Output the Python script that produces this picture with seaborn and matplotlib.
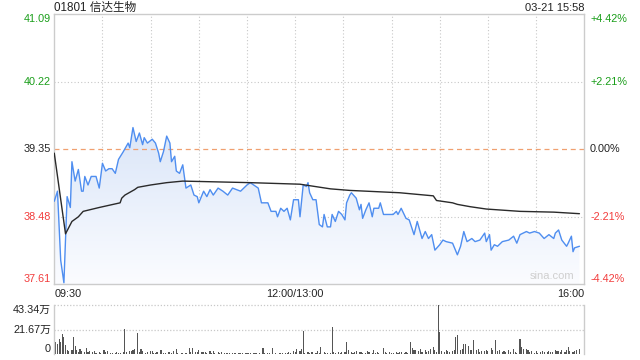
import numpy as np
import pandas as pd
import matplotlib
matplotlib.use("Agg")
import matplotlib.pyplot as plt
from matplotlib.patches import Polygon
from matplotlib.colors import LinearSegmentedColormap
import seaborn as sns

# ---------------- data ----------------
title = "01801 信达生物"
stamp = "03-21 15:58"
prev_close = 39.35
price_ticks = [41.09, 40.22, 39.35, 38.48, 37.61]
pct_labels = ["+4.42%", "+2.21%", "0.00%", "-2.21%", "-4.42%"]
time_labels = ["09:30", "12:00/13:00", "16:00"]
time_label_min = [0, 150, 330]
vol_ticks = [43.34, 21.67, 0]
vol_labels = ["43.34万", "21.67万", "0"]

price_min = [0, 2, 4, 6, 8, 10, 11, 13, 15, 17, 18, 19, 21, 23, 26, 28, 30, 32, 34, 36,
             38, 40, 43, 46, 47, 49, 51, 53, 55, 56, 58, 61, 63, 65, 66, 68, 70, 72, 73, 75,
             76, 78, 80, 82, 85, 87, 89, 90, 93, 95, 97, 99, 102, 105, 108, 111, 116, 120, 122, 127,
             129, 133, 135, 138, 139, 141, 143, 145, 147, 149, 152, 153, 155, 157, 158, 159, 161, 163, 165, 167,
             168, 170, 172, 173, 175, 177, 179, 181, 182, 184, 185, 188, 190, 191, 192, 194, 196, 198, 199, 202,
             203, 205, 211, 213, 214, 216, 219, 221, 224, 226, 229, 231, 233, 235, 237, 240, 242, 244, 248, 251,
             253, 255, 257, 260, 262, 265, 268, 269, 271, 272, 274, 276, 279, 283, 286, 288, 290, 294, 296, 299,
             302, 305, 308, 311, 312, 314, 316, 319, 320, 322, 323, 324, 327]
price = [38.68, 38.81, 37.92, 37.63, 38.74, 38.60, 39.19, 38.94, 39.09, 38.81, 38.81, 39.00, 38.89, 39.00, 39.00, 38.85, 39.17, 39.07, 39.10, 39.10,
         39.04, 39.22, 39.32, 39.43, 39.37, 39.63, 39.45, 39.56, 39.41, 39.50, 39.43, 39.48, 39.43, 39.30, 39.19, 39.32, 39.52, 39.43, 39.19, 39.26,
         39.07, 39.04, 39.15, 38.85, 38.89, 38.76, 38.74, 38.66, 38.81, 38.74, 38.83, 38.76, 38.85, 38.81, 38.76, 38.85, 38.81, 38.89, 38.92, 38.85,
         38.66, 38.66, 38.55, 38.55, 38.48, 38.59, 38.55, 38.59, 38.44, 38.70, 38.70, 38.48, 38.89, 38.87, 38.92, 38.79, 38.70, 38.70, 38.38, 38.35,
         38.51, 38.35, 38.35, 38.51, 38.42, 38.55, 38.51, 38.44, 38.66, 38.76, 38.79, 38.72, 38.57, 38.64, 38.46, 38.57, 38.66, 38.48, 38.59, 38.59,
         38.66, 38.51, 38.51, 38.55, 38.51, 38.59, 38.46, 38.44, 38.25, 38.42, 38.20, 38.29, 38.20, 38.25, 38.05, 38.12, 38.18, 38.16, 38.14, 37.99,
         38.10, 38.29, 38.16, 38.20, 38.16, 38.18, 38.27, 38.16, 38.25, 38.05, 38.12, 38.10, 38.16, 38.18, 38.23, 38.14, 38.25, 38.29, 38.27, 38.29,
         38.27, 38.20, 38.25, 38.20, 38.27, 38.31, 38.18, 38.10, 38.14, 38.23, 38.03, 38.08, 38.10]

avg_min = [0, 7, 11, 15, 18, 28, 41, 42, 44, 50, 52, 60, 70, 80, 122, 153, 172, 184, 215, 236,
           238, 248, 251, 259, 269, 290, 311, 327]
avg_price = [39.30, 38.26, 38.42, 38.48, 38.55, 38.60, 38.66, 38.72, 38.76, 38.83, 38.86, 38.89, 38.92, 38.94, 38.92, 38.90, 38.84, 38.82, 38.79, 38.75,
             38.69, 38.66, 38.64, 38.61, 38.58, 38.55, 38.54, 38.52]

vol_min = [1, 2, 3, 4, 5, 6, 7, 8, 9, 11, 12, 13, 14, 15, 16, 17, 19, 20, 21, 22,
           24, 25, 26, 28, 29, 31, 32, 33, 35, 36, 38, 39, 40, 41, 43, 44, 45, 47, 48, 49,
           50, 52, 53, 54, 55, 57, 58, 60, 61, 62, 63, 64, 66, 67, 68, 69, 71, 72, 73, 74,
           76, 77, 79, 80, 82, 84, 85, 86, 88, 89, 90, 92, 93, 94, 95, 97, 98, 99, 100, 102,
           103, 104, 106, 107, 108, 109, 111, 112, 113, 115, 116, 117, 119, 120, 121, 122, 124, 125, 126, 128,
           130, 131, 133, 134, 136, 138, 140, 141, 142, 144, 145, 146, 147, 149, 150, 151, 153, 154, 155, 156,
           158, 159, 160, 161, 163, 164, 165, 166, 168, 169, 170, 172, 173, 174, 175, 177, 178, 179, 181, 182,
           183, 185, 186, 187, 188, 190, 191, 192, 194, 195, 196, 198, 199, 200, 201, 202, 205, 206, 207, 209,
           210, 211, 213, 214, 215, 216, 218, 219, 220, 222, 223, 224, 225, 227, 228, 229, 231, 232, 233, 234,
           236, 237, 238, 239, 240, 241, 243, 244, 245, 246, 248, 249, 250, 251, 253, 254, 255, 256, 258, 259,
           260, 261, 263, 264, 265, 266, 268, 269, 270, 272, 273, 275, 276, 277, 279, 280, 281, 283, 284, 286,
           287, 288, 290, 291, 292, 294, 295, 296, 297, 299, 300, 301, 303, 304, 305, 307, 308, 309, 310, 312,
           313, 314, 315, 316, 318, 319, 320, 321, 323, 324, 325, 327]
vol_wan = [11.0, 9.0, 13.3, 11.0, 18.2, 15.3, 8.0, 3.8, 3.2, 4.3, 15.3, 7.2, 3.8, 2.3, 5.2, 2.9, 2.3, 6.0, 2.3, 3.2,
           2.3, 2.9, 1.7, 2.0, 1.4, 3.8, 2.0, 3.2, 1.7, 1.7, 1.2, 2.3, 1.7, 1.4, 2.6, 22.5, 2.3, 2.9, 3.2, 3.8,
           4.6, 18.8, 2.3, 5.2, 3.2, 1.7, 2.3, 2.9, 3.2, 1.7, 1.4, 2.0, 3.5, 3.5, 1.7, 1.4, 2.0, 2.6, 1.4, 2.9,
           5.2, 1.4, 1.7, 1.7, 1.4, 6.0, 2.0, 5.8, 2.0, 2.3, 3.8, 2.3, 2.3, 2.6, 1.7, 3.2, 1.7, 2.9, 1.7, 2.3,
           1.7, 2.3, 1.7, 1.7, 1.4, 1.2, 1.7, 1.4, 1.4, 1.2, 1.4, 1.2, 1.4, 1.2, 0.9, 1.2, 0.9, 1.4, 1.2, 1.2,
           6.0, 1.7, 1.4, 1.4, 5.8, 1.2, 1.4, 1.4, 1.2, 1.4, 1.7, 2.3, 1.7, 3.2, 2.3, 5.2, 2.9, 4.6, 20.2, 1.7,
           2.3, 1.7, 2.0, 2.3, 1.4, 2.9, 1.7, 6.9, 2.3, 1.7, 1.2, 1.7, 24.0, 2.0, 1.7, 2.3, 1.7, 2.0, 2.6, 11.0,
           3.8, 2.0, 1.7, 2.0, 2.9, 2.0, 2.0, 1.7, 1.7, 3.2, 2.0, 1.7, 3.8, 1.7, 2.6, 1.7, 6.0, 2.0, 1.7, 2.3,
           1.4, 1.7, 2.6, 1.7, 2.0, 2.3, 1.7, 2.3, 1.7, 11.0, 6.0, 4.3, 3.8, 3.2, 5.2, 2.0, 3.5, 2.3, 2.9, 4.6,
           6.6, 3.8, 2.3, 43.34, 19.7, 2.9, 2.3, 3.8, 3.2, 2.0, 2.9, 3.8, 15.3, 16.8, 3.8, 4.6, 9.5, 9.5, 7.2, 3.8,
           4.3, 12.4, 3.8, 4.6, 2.3, 3.2, 2.9, 3.8, 2.9, 5.8, 3.8, 12.4, 2.9, 4.3, 2.3, 2.9, 2.3, 3.8, 2.0, 4.6,
           2.3, 1.7, 13.3, 6.6, 4.9, 5.2, 3.8, 2.3, 2.9, 1.7, 2.9, 1.7, 2.3, 2.9, 2.0, 2.3, 2.9, 2.0, 2.6, 3.5,
           3.2, 3.2, 2.3, 3.5, 2.3, 4.3, 6.6, 3.2, 2.3, 3.2, 3.8, 4.9]

# ---------------- style ----------------
sns.set_style("white")
plt.rcParams["font.family"] = ["Liberation Sans", "Noto Sans CJK SC", "DejaVu Sans"]

GREEN = "#1a9e1a"
RED = "#f23c3c"
DARK = "#222222"
GRID = "#c8c8c8"
label_colors = [GREEN, GREEN, DARK, RED, RED]

fig = plt.figure(figsize=(6.4, 3.6), dpi=100)
ax = fig.add_axes([0.0848, 0.2103, 0.8281, 0.75])
axv = fig.add_axes([0.0848, 0.0153, 0.8281, 0.1375])

x_max = 330
y_lo, y_hi = price_ticks[-1], price_ticks[0]

df_p = pd.DataFrame({"minute": price_min, "price": price})
df_a = pd.DataFrame({"minute": avg_min, "price": avg_price})

# gradient fill under price line
verts = [(price_min[0], y_lo)] + list(zip(price_min, price)) + [(price_min[-1], y_lo)]
patch = Polygon(verts, closed=True, facecolor="none", edgecolor="none")
ax.add_patch(patch)
cmap = LinearSegmentedColormap.from_list("fill", ["#fbfcff", "#d9e5f8"])
grad = np.linspace(0, 1, 256).reshape(-1, 1)
im = ax.imshow(grad, cmap=cmap, origin="lower", aspect="auto",
               extent=[0, x_max, y_lo, 39.7], zorder=1)
im.set_clip_path(patch)

sns.lineplot(data=df_p, x="minute", y="price", ax=ax, color="#4f8ef0",
             linewidth=1.0, zorder=3, errorbar=None)
sns.lineplot(data=df_a, x="minute", y="price", ax=ax, color="#2a2a2a",
             linewidth=1.0, zorder=4, errorbar=None)

ax.set_xlim(0, x_max)
ax.set_ylim(y_lo, y_hi)
ax.set_xlabel("")
ax.set_ylabel("")
ax.set_xticks([])
ax.set_yticks([])

# grid
for m in range(30, x_max, 30):
    ax.axvline(m, color=GRID, linewidth=0.8, linestyle=(0, (1, 2)), zorder=0)
for v in price_ticks[1:-1]:
    if v == prev_close:
        ax.axhline(v, color="#f0a070", linewidth=0.9, linestyle=(0, (4, 3)), zorder=2)
    else:
        ax.axhline(v, color=GRID, linewidth=0.8, linestyle=(0, (1, 2)), zorder=0)

for s in ax.spines.values():
    s.set_color("#cccccc")
    s.set_linewidth(1.0)

fs = 7.8
ytr = ax.get_yaxis_transform()
for i, (v, pl, c) in enumerate(zip(price_ticks, pct_labels, label_colors)):
    va = "top" if i == 0 else ("bottom" if i == len(price_ticks) - 1 else "center")
    ax.text(-0.006, v, f"{v:.2f}", transform=ytr, ha="right", va=va, color=c, fontsize=fs)
    ax.text(1.011, v, pl, transform=ytr, ha="left", va=va, color=c, fontsize=fs)

xtr = ax.get_xaxis_transform()
has = ["left", "center", "right"]
for m, lab, ha in zip(time_label_min, time_labels, has):
    ax.text(m, -0.016, lab, transform=xtr, ha=ha, va="top", color=DARK, fontsize=fs)

ax.text(0.981, 0.012, "sina.com", transform=ax.transAxes, ha="right", va="bottom",
        color="#cfcfcf", fontsize=8)

fig.text(0.0848, 0.978, title, ha="left", va="center", color=DARK, fontsize=8.4)
fig.text(0.913, 0.978, stamp, ha="right", va="center", color=DARK, fontsize=8)

# volume panel
axv.bar(vol_min, vol_wan, width=0.7, color="#555555", linewidth=0, zorder=2)
axv.set_xlim(0, x_max)
axv.set_ylim(0, vol_ticks[0])
axv.set_xticks([])
axv.set_yticks([])
for v in vol_ticks[:2]:
    axv.axhline(v, color=GRID, linewidth=0.9, linestyle=(0, (1, 1.5)), zorder=0, clip_on=False)
axv.spines["top"].set_visible(False)
axv.spines["bottom"].set_visible(False)
for k in ["left", "right"]:
    axv.spines[k].set_color("#cccccc")
    axv.spines[k].set_linewidth(1.0)
vtr = axv.get_yaxis_transform()
for i, (v, lab) in enumerate(zip(vol_ticks, vol_labels)):
    va = "top" if i == 0 else ("bottom" if i == len(vol_ticks) - 1 else "center")
    axv.text(-0.006, v, lab, transform=vtr, ha="right", va=va, color=DARK, fontsize=fs)

fig.savefig("out.png", dpi=100, facecolor="white")
